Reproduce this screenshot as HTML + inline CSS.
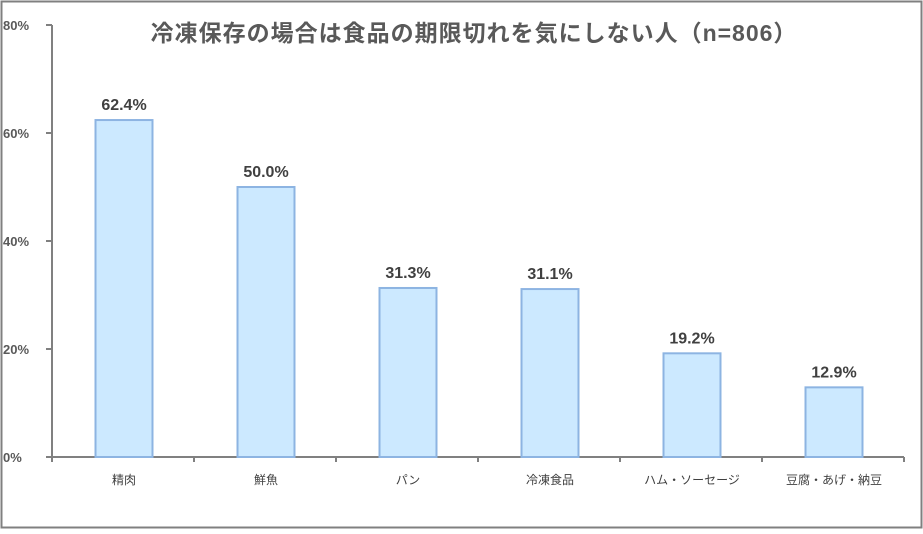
<!DOCTYPE html>
<html><head><meta charset="utf-8">
<style>
body{margin:0;background:#fff;}
svg text{font-family:"Liberation Sans","Noto Sans CJK JP",sans-serif;}
</style></head>
<body>
<svg id="chart" width="923" height="529" xmlns="http://www.w3.org/2000/svg">
<rect x="1.5" y="1.5" width="920" height="526" fill="#fff" stroke="#808080" stroke-width="2"/>
<text x="474" y="41" text-anchor="middle" font-size="23" letter-spacing="1" font-weight="bold" fill="#595959">冷凍保存の場合は食品の期限切れを気にしない人（n=806）</text>
<g id="axes"></g>
<g id="bars"></g>
</svg>
<script>
const categories = ["精肉","鮮魚","パン","冷凍食品","ハム・ソーセージ","豆腐・あげ・納豆"];
const values = [62.4,50.0,31.3,31.1,19.2,12.9];
const valueLabels = ["62.4%","50.0%","31.3%","31.1%","19.2%","12.9%"];
const yTicks = [0,20,40,60,80];
const yTickLabels = ["0%","20%","40%","60%","80%"];

const NS="http://www.w3.org/2000/svg";
const x0=52,x1=904,y0=457,yTop=25,yMax=80;
const band=(x1-x0)/categories.length;
const yS=v=>y0-(v/yMax)*(y0-yTop);
const xC=i=>x0+band*(i+0.5);
function mk(t,a,p){const e=document.createElementNS(NS,t);for(const k in a)e.setAttribute(k,a[k]);p.appendChild(e);return e;}
const ax=document.getElementById('axes'), bg=document.getElementById('bars');
const yl=mk('line',{x1:x0,y1:yTop,x2:x0,y2:y0,stroke:'#808080','stroke-width':2},ax);


yTicks.forEach((v,i)=>{
  const t=mk('line',{x1:x0-6,y1:yS(v),x2:x0,y2:yS(v),stroke:'#808080','stroke-width':2},ax);
  
  
  const l=mk('text',{x:3,y:yS(v)+5,'font-size':13,fill:'#595959','font-weight':'bold'},ax);
  l.textContent=yTickLabels[i];
  
  
});
const xl=mk('line',{x1:x0-6,y1:y0,x2:x1,y2:y0,stroke:'#808080','stroke-width':2},ax);


for(let i=0;i<=categories.length;i++){
  const t=mk('line',{x1:x0+band*i,y1:y0,x2:x0+band*i,y2:y0+5,stroke:'#808080','stroke-width':2},ax);
  
  
}
categories.forEach((c,i)=>{
  const w=57, cx=xC(i)+1;
  const r=mk('rect',{x:cx-w/2,y:yS(values[i]),width:w,height:y0-yS(values[i]),fill:'#cce9ff',stroke:'#8db4e2','stroke-width':2},bg);
  
  
  const v=mk('text',{x:cx,y:yS(values[i])-10,'text-anchor':'middle','font-size':16,'font-weight':'bold',fill:'#404040'},bg);
  v.textContent=valueLabels[i];
  
  
  const l=mk('text',{x:cx,y:484,'text-anchor':'middle','font-size':12,fill:'#404040'},bg);
  l.textContent=c;
  
  
});
</script>
</body></html>
